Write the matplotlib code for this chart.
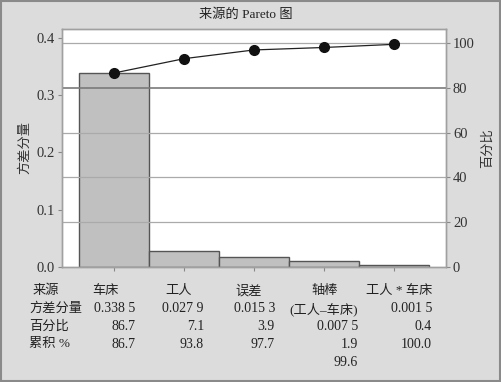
import matplotlib
matplotlib.use("Agg")
import matplotlib.pyplot as plt
from matplotlib.patches import Rectangle

plt.rcParams['font.family'] = ['Liberation Serif', 'Noto Sans CJK SC', 'DejaVu Sans']

# ---- data ----
sources = ['车床', '工人', '误差', '轴棒\n(工人–车床)', '工人 * 车床']
bar_values = [0.3385, 0.0287, 0.0182, 0.0105, 0.0035]
cum_plot = [86.6, 93.0, 96.9, 98.0, 99.4]
# values printed in the table under the chart
variance = [0.3385, 0.0279, 0.0153, 0.0075, 0.0015]
percent = [86.7, 7.1, 3.9, 1.9, 0.4]
cumulative = [86.7, 93.8, 97.7, 99.6, 100.0]
row_labels = ['来源', '方差分量', '百分比', '累积 %']
left_ticks = [0.0, 0.1, 0.2, 0.3, 0.4]
right_ticks = [0, 20, 40, 60, 80, 100]

W, H = 501, 382
fig = plt.figure(figsize=(W / 100, H / 100), dpi=100)
fig.patch.set_facecolor('#dcdcdc')
fig.patches.append(Rectangle((0.002, 0.003), 0.996, 0.994, transform=fig.transFigure,
                             fill=False, edgecolor='#8a8a8a', linewidth=1.5))

def px(x, y):
    return x / W, 1 - y / H

l, r, t, b = 62, 446, 29, 267
ax = fig.add_axes([l / W, 1 - b / H, (r - l) / W, (b - t) / H])
ax.set_facecolor('white')
ax2 = ax.twinx()

xs = list(range(len(sources)))
ax.bar(xs, bar_values, width=1.0, color='#c0c0c0', edgecolor='#555555', linewidth=1.0, zorder=2)
ax.set_xlim(-0.743, 4.743)
ax.set_ylim(0, 0.4157)
ax.set_yticks(left_ticks)
ax.set_yticklabels([f"{v:.1f}" for v in left_ticks])
ax.set_xticks(xs)
ax.set_xticklabels([])

ax2.set_ylim(0, 106.25)
ax2.set_yticks(right_ticks)
for v in right_ticks[1:]:
    ax2.axhline(v, color='#7a7a7a' if v == 80 else '#aaaaaa',
                linewidth=1.2 if v == 80 else 0.9, zorder=1)
ax2.plot(xs, cum_plot, color='#222222', linewidth=0.9, marker='o',
         markersize=7, markerfacecolor='#111111', markeredgecolor='#111111', zorder=4)

for a in (ax, ax2):
    for s in a.spines.values():
        s.set_color('#a0a0a0')
        s.set_linewidth(1.0)
    a.tick_params(axis='both', direction='out', length=3, width=0.8, color='#888888',
                  labelsize=10.5, labelcolor='#333333', pad=2)
ax.tick_params(axis='x', length=3)

ax.set_ylabel('方差分量', fontsize=9.5, color='#333333', labelpad=4)
ax2.set_ylabel('百分比', fontsize=9.5, color='#333333', labelpad=5)

fig.text(*px(246, 15), '来源的 Pareto 图', ha='center', va='center', fontsize=9.5, color='#222222')

# ---- table below the chart ----
row_y = [290.7, 309, 326.7, 344.3, 362.3]
tc = '#222222'
fs = 10
fig.text(*px(33, row_y[0]), row_labels[0], ha='left', va='center', fontsize=9.5, color=tc)
for i, lab in enumerate(row_labels[1:], start=1):
    fig.text(*px(29, row_y[i]), lab, ha='left', va='center', fontsize=9.5, color=tc)

def fmt_var(v):
    s = f"{v:.4f}"
    return s[:-1] + ' ' + s[-1]

col_right = [135, 204, 275, 358, 432]
header_pos = [(92, 'left'), (165, 'left'), (235, 'left'), (325, 'center'), (432, 'right')]
for j, name in enumerate(sources):
    lines = name.split('\n')
    cells = [(ln, True) for ln in lines] + [(fmt_var(variance[j]), False),
                                             (f"{percent[j]:.1f}", False),
                                             (f"{cumulative[j]:.1f}", False)]
    for k, (txt, is_header) in enumerate(cells):
        y = row_y[k]
        if k == 0:
            hx, ha = header_pos[j]
            fig.text(*px(hx, y), txt, ha=ha, va='center', fontsize=9.5, color=tc)
        elif is_header:
            fig.text(*px(col_right[j], y), txt, ha='right', va='center', fontsize=9.5, color=tc)
        else:
            fig.text(*px(col_right[j], y), txt, ha='right', va='center', fontsize=fs, color=tc)

fig.savefig('out.png', dpi=100, facecolor=fig.get_facecolor())
